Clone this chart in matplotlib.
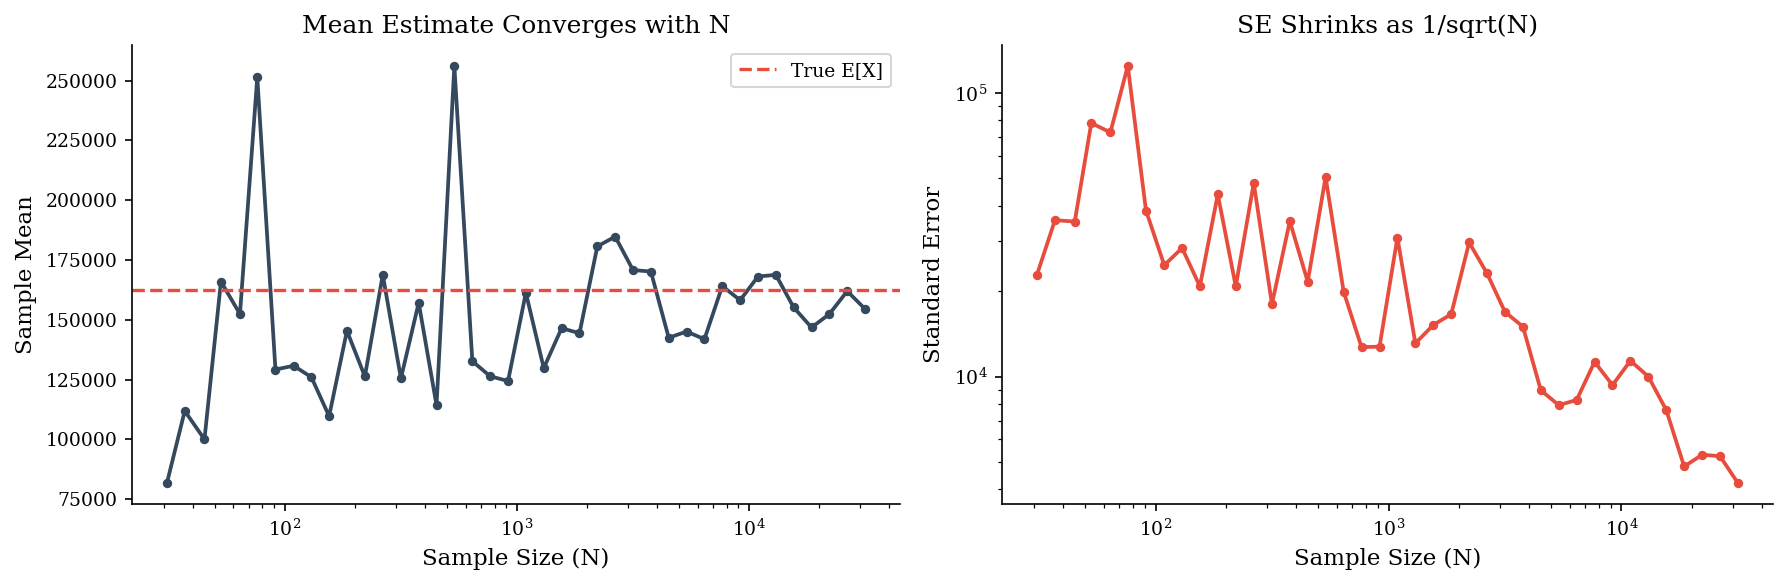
import matplotlib
matplotlib.use("Agg")
import matplotlib.pyplot as plt

plt.rcParams['font.family'] = ['DejaVu Serif']

sample_sizes = [31, 37, 45, 53, 64, 76, 91, 109, 130, 155, 185, 221, 264, 316,
                377, 450, 537, 642, 766, 915, 1092, 1304, 1557, 1859, 2219,
                2649, 3162, 3775, 4506, 5379, 6422, 7666, 9151, 10924, 13041,
                15568, 18585, 22185, 26485, 31622]

sample_means = [81700, 111900, 100000, 166000, 152400, 251500, 129200, 130800,
                126000, 109700, 145400, 126300, 168800, 125500, 157100, 114300,
                256200, 132700, 126400, 124400, 161300, 129800, 146500, 144400,
                180700, 184800, 170800, 170200, 142500, 145100, 141900, 164100,
                158200, 168100, 168800, 155200, 146800, 152400, 162000, 154500]

std_errors = [22900, 35600, 35200, 78300, 72600, 124600, 38500, 24700, 28400,
              20800, 43900, 20800, 48100, 18000, 35300, 21600, 50500, 19900,
              12700, 12750, 30900, 13100, 15200, 16600, 29700, 23100, 16900,
              15000, 8950, 7930, 8270, 11270, 9330, 11370, 10000, 7620, 4820,
              5300, 5240, 4210]

true_mean = 162500

fig = plt.figure(figsize=(1784 / 150, 585 / 150), dpi=150)
ax1 = fig.add_axes([132 / 1784, 1 - 504 / 585, (900 - 132) / 1784, (504 - 45) / 585])
ax2 = fig.add_axes([1002 / 1784, 1 - 504 / 585, (1773 - 1002) / 1784, (504 - 45) / 585])

ax1.plot(sample_sizes, sample_means, '-o', color='#34495e', lw=1.8, ms=3.5)
ax1.axhline(true_mean, color='#e74c3c', ls='--', lw=1.6, label='True E[X]')
ax1.set_xscale('log')
ax1.set_xlabel('Sample Size (N)', fontsize=11)
ax1.set_ylabel('Sample Mean', fontsize=11)
ax1.set_title('Mean Estimate Converges with N', fontsize=12)
ax1.legend(loc='upper right', fontsize=9)
ax1.tick_params(labelsize=9)

ax2.plot(sample_sizes, std_errors, '-o', color='#e74c3c', lw=1.8, ms=3.5)
ax2.set_xscale('log')
ax2.set_yscale('log')
ax2.set_xlabel('Sample Size (N)', fontsize=11)
ax2.set_ylabel('Standard Error', fontsize=11)
ax2.set_title('SE Shrinks as 1/sqrt(N)', fontsize=12)
ax2.tick_params(labelsize=9)

for ax in (ax1, ax2):
    ax.spines['top'].set_visible(False)
    ax.spines['right'].set_visible(False)

fig.savefig('out.png', dpi=150)
